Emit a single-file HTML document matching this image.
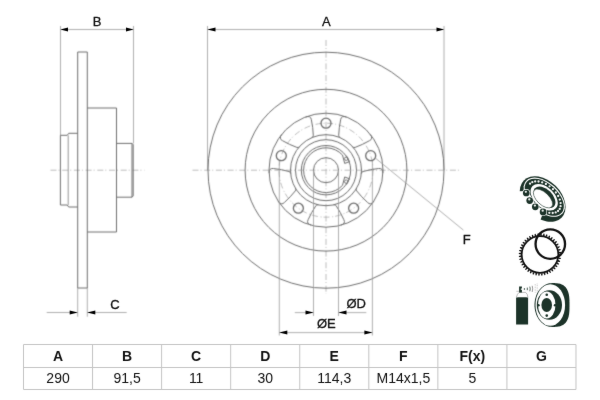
<!DOCTYPE html>
<html><head><meta charset="utf-8"><style>
html,body{margin:0;padding:0;background:#fff;}
body{width:600px;height:400px;overflow:hidden;font-family:"Liberation Sans",sans-serif;}
svg{display:block;}

</style></head><body>
<svg width="600" height="400" viewBox="0 0 600 400">
<defs>
<filter id="soft" filterUnits="userSpaceOnUse" x="0" y="0" width="600" height="400" color-interpolation-filters="sRGB"><feConvolveMatrix order="3" kernelMatrix="0.025 0.1 0.025 0.1 0.5 0.1 0.025 0.1 0.025" divisor="1" edgeMode="duplicate"/></filter>
<filter id="mild" filterUnits="userSpaceOnUse" x="0" y="0" width="600" height="400" color-interpolation-filters="sRGB"><feConvolveMatrix order="3" kernelMatrix="0.01 0.04 0.01 0.04 0.8 0.04 0.01 0.04 0.01" divisor="1" edgeMode="duplicate"/></filter>
<filter id="icf" filterUnits="userSpaceOnUse" x="0" y="0" width="600" height="400" color-interpolation-filters="sRGB"><feConvolveMatrix order="3" kernelMatrix="0.01 0.04 0.01 0.04 0.8 0.04 0.01 0.04 0.01" divisor="1" edgeMode="duplicate"/></filter>
</defs>
<g filter="url(#soft)">
<rect x="0" y="0" width="600" height="400" fill="#fff"/>
<line x1="50.5" y1="170.2" x2="144.5" y2="170.2" stroke="#b4b4b4" stroke-width="0.9" stroke-dasharray="6 2 1 2.7"/>
<line x1="60.5" y1="26" x2="60.5" y2="135.3" stroke="#9a9a9a" stroke-width="0.8"/>
<line x1="133.5" y1="26" x2="133.5" y2="143.4" stroke="#9a9a9a" stroke-width="0.8"/>
<line x1="60.5" y1="29.5" x2="133.5" y2="29.5" stroke="#9a9a9a" stroke-width="0.8"/>
<path d="M77.7,52 L87.3,52 M77.7,52 L77.7,288 M87.3,52 L87.3,288 M77.7,288 L87.3,288 M87.3,108 L116.5,108 L116.5,232 L87.3,232 M116.5,143.4 L132,143.4 L133.2,144.6 L133.2,195.9 L132,197.2 L116.5,197.2 M132,143.4 L132,197.2 M77.7,133.3 L68.7,133.3 L67.2,135.3 L60.4,135.3 L60.4,205 L67.2,205 L68.7,207 L77.7,207" fill="none" stroke="#6e6e6e" stroke-width="1"/>
<line x1="68.2" y1="135.3" x2="68.2" y2="205" stroke="#8a8a8a" stroke-width="0.9"/>
<line x1="77.7" y1="288" x2="77.7" y2="316.7" stroke="#9a9a9a" stroke-width="0.8"/>
<line x1="87.3" y1="288" x2="87.3" y2="316.7" stroke="#9a9a9a" stroke-width="0.8"/>
<line x1="46.7" y1="312.5" x2="77.7" y2="312.5" stroke="#9a9a9a" stroke-width="0.8"/>
<line x1="87.3" y1="312.5" x2="126.7" y2="312.5" stroke="#9a9a9a" stroke-width="0.8"/>
<line x1="192.5" y1="170.2" x2="460.5" y2="170.2" stroke="#b4b4b4" stroke-width="0.9" stroke-dasharray="6 2 1 2.7"/>
<line x1="326" y1="40" x2="326" y2="294" stroke="#b4b4b4" stroke-width="0.9" stroke-dasharray="6 2 1 2.7"/>
<line x1="207.5" y1="26" x2="207.5" y2="170.2" stroke="#9a9a9a" stroke-width="0.8"/>
<line x1="444" y1="26" x2="444" y2="170.2" stroke="#9a9a9a" stroke-width="0.8"/>
<line x1="207.5" y1="29.5" x2="444" y2="29.5" stroke="#9a9a9a" stroke-width="0.8"/>
<circle cx="326" cy="170.2" r="118" fill="none" stroke="#6e6e6e" stroke-width="1"/>
<circle cx="326" cy="170.2" r="80.9" fill="none" stroke="#6e6e6e" stroke-width="1"/>
<circle cx="326" cy="170.2" r="57" fill="none" stroke="#6e6e6e" stroke-width="1"/>
<circle cx="326" cy="170.2" r="35.5" fill="none" stroke="#6e6e6e" stroke-width="1"/>
<circle cx="326" cy="170.2" r="30.5" fill="none" stroke="#6e6e6e" stroke-width="1"/>
<circle cx="326" cy="170.2" r="24.7" fill="none" stroke="#6e6e6e" stroke-width="1"/>
<circle cx="326" cy="170.2" r="12.5" fill="none" stroke="#6e6e6e" stroke-width="1"/>
<circle cx="326" cy="170.2" r="47" fill="none" stroke="#b4b4b4" stroke-width="0.9" stroke-dasharray="6 2 1 2.7"/>
<circle cx="326" cy="123.2" r="5" fill="none" stroke="#6a6a6a" stroke-width="1.3"/>
<circle cx="370.7" cy="155.68" r="5" fill="none" stroke="#6a6a6a" stroke-width="1.3"/>
<circle cx="353.63" cy="208.22" r="5" fill="none" stroke="#6a6a6a" stroke-width="1.3"/>
<circle cx="298.37" cy="208.22" r="5" fill="none" stroke="#6a6a6a" stroke-width="1.3"/>
<circle cx="281.3" cy="155.68" r="5" fill="none" stroke="#6a6a6a" stroke-width="1.3"/>
<path d="M311.78,137.67 Q313.5,136.97 313.31,135.48 Q313.04,127.61 311.36,119.73 Q310.8,115.26 305.6,116.97 M340.22,137.67 Q338.5,136.97 338.69,135.48 Q338.96,127.61 340.64,119.73 Q341.2,115.26 346.4,116.97 M352.54,146.62 Q353.74,148.04 355.1,147.41 Q362.5,144.71 369.47,140.68 Q373.55,138.77 370.32,134.36 M361.33,173.67 Q361.46,171.82 362.94,171.54 Q370.51,169.37 378.53,168.53 Q382.94,167.68 382.92,173.15 M356.62,188.16 Q355.64,189.73 356.67,190.83 Q361.52,197.04 367.51,202.42 Q370.59,205.71 373.79,201.27 M333.61,204.87 Q335.42,204.43 336.14,205.74 Q340.55,212.28 343.82,219.64 Q345.99,223.58 340.79,225.25 M318.39,204.87 Q316.58,204.43 315.86,205.74 Q311.45,212.28 308.18,219.64 Q306.01,223.58 311.21,225.25 M295.38,188.16 Q296.36,189.73 295.33,190.83 Q290.48,197.04 284.49,202.42 Q281.41,205.71 278.21,201.27 M290.67,173.67 Q290.54,171.82 289.06,171.54 Q281.49,169.37 273.47,168.53 Q269.06,167.68 269.08,173.15 M299.46,146.62 Q298.26,148.04 296.9,147.41 Q289.5,144.71 282.53,140.68 Q278.45,138.77 281.68,134.36" fill="none" stroke="#6e6e6e" stroke-width="1"/>
<path d="M342.49,155.04 A22.4,22.4 0 1,0 342.49,185.36" fill="none" stroke="#6e6e6e" stroke-width="1"/>
<path d="M342.49,155.04 L344.71,163.43 L349.48,161.61 L346.3,155.78" fill="none" stroke="#6e6e6e" stroke-width="1" stroke-linejoin="round"/>
<circle cx="346.28" cy="158.73" r="1.75" fill="none" stroke="#6e6e6e" stroke-width="0.9"/>
<path d="M342.49,185.36 L344.71,176.97 L349.48,178.79 L346.3,184.62" fill="none" stroke="#6e6e6e" stroke-width="1" stroke-linejoin="round"/>
<circle cx="346.28" cy="181.67" r="1.75" fill="none" stroke="#6e6e6e" stroke-width="0.9"/>
<line x1="279.3" y1="161" x2="279.3" y2="335.5" stroke="#9a9a9a" stroke-width="0.8"/>
<line x1="372.4" y1="161" x2="372.4" y2="335.5" stroke="#9a9a9a" stroke-width="0.8"/>
<line x1="279.3" y1="332.6" x2="372.4" y2="332.6" stroke="#9a9a9a" stroke-width="0.8"/>
<line x1="313.5" y1="170.2" x2="313.5" y2="316" stroke="#9a9a9a" stroke-width="0.8"/>
<line x1="338.5" y1="170.2" x2="338.5" y2="316" stroke="#9a9a9a" stroke-width="0.8"/>
<line x1="294.8" y1="312.6" x2="313.5" y2="312.6" stroke="#9a9a9a" stroke-width="0.8"/>
<line x1="338.5" y1="312.6" x2="366.3" y2="312.6" stroke="#9a9a9a" stroke-width="0.8"/>
<line x1="375.4" y1="158.1" x2="463.4" y2="230.1" stroke="#9a9a9a" stroke-width="0.8"/>
</g>
<g filter="url(#mild)">
<path d="M60.5,29.5 L68,27.50 L68,31.50 Z" fill="#000"/>
<path d="M133.5,29.5 L126,27.50 L126,31.50 Z" fill="#000"/>
<path d="M77.7,312.5 L69.7,310.50 L69.7,314.50 Z" fill="#000"/>
<path d="M87.3,312.5 L95.3,310.50 L95.3,314.50 Z" fill="#000"/>
<path d="M207.5,29.5 L215.5,27.50 L215.5,31.50 Z" fill="#000"/>
<path d="M444,29.5 L436.5,27.50 L436.5,31.50 Z" fill="#000"/>
<path d="M279.3,332.6 L287.3,330.60 L287.3,334.60 Z" fill="#000"/>
<path d="M372.4,332.6 L364.4,330.60 L364.4,334.60 Z" fill="#000"/>
<path d="M313.5,312.6 L305.5,310.60 L305.5,314.60 Z" fill="#000"/>
<path d="M338.5,312.6 L346.5,310.60 L346.5,314.60 Z" fill="#000"/>
<text x="97" y="25.8" font-size="13" text-anchor="middle" font-family="Liberation Sans, sans-serif" fill="#111" stroke="#111" stroke-width="0.3">B</text>
<text x="326.4" y="25.8" font-size="13" text-anchor="middle" font-family="Liberation Sans, sans-serif" fill="#111" stroke="#111" stroke-width="0.3">A</text>
<text x="115" y="308.7" font-size="13" text-anchor="middle" font-family="Liberation Sans, sans-serif" fill="#111" stroke="#111" stroke-width="0.3">C</text>
<text x="346.5" y="307.8" font-size="13" font-family="Liberation Sans, sans-serif" fill="#111" stroke="#111" stroke-width="0.3">ØD</text>
<text x="317" y="328" font-size="13" font-family="Liberation Sans, sans-serif" fill="#111" stroke="#111" stroke-width="0.3">ØE</text>
<text x="462.8" y="244.2" font-size="13" font-family="Liberation Sans, sans-serif" fill="#111" stroke="#111" stroke-width="0.3">F</text>
<path d="M23.5,344.5 L23.5,389.5 M92.56,344.5 L92.56,389.5 M161.62,344.5 L161.62,389.5 M230.68,344.5 L230.68,389.5 M299.74,344.5 L299.74,389.5 M368.8,344.5 L368.8,389.5 M437.86,344.5 L437.86,389.5 M506.92,344.5 L506.92,389.5 M575.98,344.5 L575.98,389.5 M23.5,344.5 L576,344.5 M23.5,367.5 L576,367.5 M23.5,389.5 L576,389.5" fill="none" stroke="#c4c4c4" stroke-width="1"/>
<text x="58.03" y="361.2" font-size="14" font-weight="bold" text-anchor="middle" font-family="Liberation Sans, sans-serif" fill="#111">A</text>
<text x="58.03" y="383.3" font-size="14" text-anchor="middle" font-family="Liberation Sans, sans-serif" fill="#111">290</text>
<text x="127.09" y="361.2" font-size="14" font-weight="bold" text-anchor="middle" font-family="Liberation Sans, sans-serif" fill="#111">B</text>
<text x="127.09" y="383.3" font-size="14" text-anchor="middle" font-family="Liberation Sans, sans-serif" fill="#111">91,5</text>
<text x="196.15" y="361.2" font-size="14" font-weight="bold" text-anchor="middle" font-family="Liberation Sans, sans-serif" fill="#111">C</text>
<text x="196.15" y="383.3" font-size="14" text-anchor="middle" font-family="Liberation Sans, sans-serif" fill="#111">11</text>
<text x="265.21" y="361.2" font-size="14" font-weight="bold" text-anchor="middle" font-family="Liberation Sans, sans-serif" fill="#111">D</text>
<text x="265.21" y="383.3" font-size="14" text-anchor="middle" font-family="Liberation Sans, sans-serif" fill="#111">30</text>
<text x="334.27" y="361.2" font-size="14" font-weight="bold" text-anchor="middle" font-family="Liberation Sans, sans-serif" fill="#111">E</text>
<text x="334.27" y="383.3" font-size="14" text-anchor="middle" font-family="Liberation Sans, sans-serif" fill="#111">114,3</text>
<text x="403.33" y="361.2" font-size="14" font-weight="bold" text-anchor="middle" font-family="Liberation Sans, sans-serif" fill="#111">F</text>
<text x="403.33" y="383.3" font-size="14" text-anchor="middle" font-family="Liberation Sans, sans-serif" fill="#111">M14x1,5</text>
<text x="472.39" y="361.2" font-size="14" font-weight="bold" text-anchor="middle" font-family="Liberation Sans, sans-serif" fill="#111">F(x)</text>
<text x="472.39" y="383.3" font-size="14" text-anchor="middle" font-family="Liberation Sans, sans-serif" fill="#111">5</text>
<text x="541.45" y="361.2" font-size="14" font-weight="bold" text-anchor="middle" font-family="Liberation Sans, sans-serif" fill="#111">G</text>
</g>
<g filter="url(#icf)">
<ellipse cx="0" cy="0" rx="26.5" ry="18.5" fill="#1c3329" transform="translate(542.66,199.04) rotate(44.6)" />
<ellipse cx="0" cy="0" rx="24.46" ry="14.63" fill="#fff" transform="translate(544.24,197.23) rotate(41.9)" />
<ellipse cx="0" cy="0" rx="23.36" ry="13.53" fill="#1c3329" transform="translate(544.24,197.23) rotate(41.9)" />
<circle cx="530.04" cy="183.66" r="1.15" fill="#f2f4f3"/>
<circle cx="532.31" cy="182.16" r="1.15" fill="#f2f4f3"/>
<circle cx="535.18" cy="181.42" r="1.15" fill="#f2f4f3"/>
<circle cx="538.52" cy="181.50" r="1.15" fill="#f2f4f3"/>
<circle cx="542.16" cy="182.38" r="1.15" fill="#f2f4f3"/>
<circle cx="545.89" cy="184.02" r="1.15" fill="#f2f4f3"/>
<circle cx="549.54" cy="186.33" r="1.15" fill="#f2f4f3"/>
<circle cx="552.92" cy="189.21" r="1.15" fill="#f2f4f3"/>
<circle cx="555.85" cy="192.49" r="1.15" fill="#f2f4f3"/>
<circle cx="558.18" cy="196.01" r="1.15" fill="#f2f4f3"/>
<circle cx="559.79" cy="199.60" r="1.15" fill="#f2f4f3"/>
<circle cx="560.61" cy="203.06" r="1.15" fill="#f2f4f3"/>
<circle cx="560.58" cy="206.22" r="1.15" fill="#f2f4f3"/>
<circle cx="559.72" cy="208.92" r="1.15" fill="#f2f4f3"/>
<circle cx="558.06" cy="211.02" r="1.15" fill="#f2f4f3"/>
<circle cx="555.69" cy="212.41" r="1.15" fill="#f2f4f3"/>
<circle cx="552.73" cy="213.02" r="1.15" fill="#f2f4f3"/>
<circle cx="549.33" cy="212.82" r="1.15" fill="#f2f4f3"/>
<circle cx="545.67" cy="211.82" r="1.15" fill="#f2f4f3"/>
<circle cx="541.94" cy="210.07" r="1.15" fill="#f2f4f3"/>
<polygon points="540.04,221.03 538.87,220.50 537.71,219.93 536.55,219.30 535.42,218.63 534.30,217.91 533.19,217.15 532.12,216.34 531.06,215.50 530.03,214.61 529.04,213.69 528.07,212.73 527.14,211.74 526.25,210.73 525.39,209.68 524.58,208.61 523.81,207.52 523.08,206.40 522.40,205.27 521.76,204.13 521.18,202.97 520.64,201.80 520.16,200.63 519.73,199.45 519.35,198.28 519.03,197.10 518.77,195.93 518.56,194.76 518.41,193.61 518.31,192.47 518.27,191.34 530.02,191.10 530.03,191.78 530.07,192.47 530.15,193.17 530.28,193.89 530.44,194.61 530.64,195.35 530.88,196.09 531.16,196.83 531.48,197.57 531.83,198.31 532.22,199.05 532.65,199.78 533.10,200.51 533.59,201.22 534.11,201.93 534.65,202.62 535.23,203.30 535.83,203.95 536.45,204.59 537.10,205.21 537.76,205.80 538.45,206.38 539.15,206.92 539.87,207.44 540.59,207.92 541.33,208.38 542.08,208.80 542.83,209.19 543.58,209.55 544.34,209.87" fill="#fff"/>
<ellipse cx="0" cy="0" rx="16.700000000000003" ry="10.68" fill="#1c3329" transform="translate(544.18,197.21) rotate(43.6)" />
<ellipse cx="0" cy="0" rx="16.1" ry="10.08" fill="#fff" transform="translate(544.18,197.21) rotate(43.6)" />
<ellipse cx="0" cy="0" rx="13.09" ry="8.0" fill="#1c3329" transform="translate(544.46,197.33) rotate(43.9)" />
<ellipse cx="0" cy="0" rx="12.0" ry="6.1" fill="#fff" transform="translate(542.98,198.55) rotate(43.9)" stroke="#1c3329" stroke-width="0.5"/>
<circle cx="526.25" cy="193.0" r="3.95" fill="#fff"/><circle cx="526.25" cy="193.0" r="3.35" fill="#1c3329"/><circle cx="525.85" cy="191.8" r="1.15" fill="#e8ece9"/>
<circle cx="529.7" cy="200.6" r="3.95" fill="#fff"/><circle cx="529.7" cy="200.6" r="3.35" fill="#1c3329"/><circle cx="529.3000000000001" cy="199.4" r="1.15" fill="#e8ece9"/>
<circle cx="535.3" cy="206.8" r="3.95" fill="#fff"/><circle cx="535.3" cy="206.8" r="3.35" fill="#1c3329"/><circle cx="534.9" cy="205.60000000000002" r="1.15" fill="#e8ece9"/>
<circle cx="543.1" cy="211.9" r="3.95" fill="#fff"/><circle cx="543.1" cy="211.9" r="3.35" fill="#1c3329"/><circle cx="542.7" cy="210.70000000000002" r="1.15" fill="#e8ece9"/>
<path d="M558.90,254.50 L561.19,255.11 L561.15,256.01 L558.80,256.44Z M558.71,257.19 L560.89,258.12 L560.72,259.01 L558.33,259.10Z M558.13,259.82 L560.16,261.05 L559.86,261.91 L557.49,261.66Z M557.19,262.35 L559.02,263.85 L558.61,264.66 L556.30,264.07Z M555.90,264.72 L557.50,266.47 L556.97,267.20 L554.77,266.30Z M554.28,266.88 L555.62,268.83 L554.99,269.49 L552.94,268.28Z M552.38,268.78 L553.42,270.91 L552.70,271.47 L550.85,269.98Z M550.22,270.40 L550.95,272.65 L550.16,273.11 L548.53,271.36Z M547.85,271.69 L548.25,274.03 L547.41,274.36 L546.05,272.41Z M545.32,272.63 L545.39,275.00 L544.51,275.22 L543.44,273.09Z M542.69,273.21 L542.42,275.56 L541.51,275.65 L540.76,273.38Z M540.00,273.40 L539.39,275.69 L538.49,275.65 L538.06,273.30Z M537.31,273.21 L536.38,275.39 L535.49,275.22 L535.40,272.83Z M534.68,272.63 L533.45,274.66 L532.59,274.36 L532.84,271.99Z M532.15,271.69 L530.65,273.52 L529.84,273.11 L530.43,270.80Z M529.78,270.40 L528.03,272.00 L527.30,271.47 L528.20,269.27Z M527.62,268.78 L525.67,270.12 L525.01,269.49 L526.22,267.44Z M525.72,266.88 L523.59,267.92 L523.03,267.20 L524.52,265.35Z M524.10,264.72 L521.85,265.45 L521.39,264.66 L523.14,263.03Z M522.81,262.35 L520.47,262.75 L520.14,261.91 L522.09,260.55Z M521.87,259.82 L519.50,259.89 L519.28,259.01 L521.41,257.94Z M521.29,257.19 L518.94,256.92 L518.85,256.01 L521.12,255.26Z M521.10,254.50 L518.81,253.89 L518.85,252.99 L521.20,252.56Z M521.29,251.81 L519.11,250.88 L519.28,249.99 L521.67,249.90Z M521.87,249.18 L519.84,247.95 L520.14,247.09 L522.51,247.34Z M522.81,246.65 L520.98,245.15 L521.39,244.34 L523.70,244.93Z M524.10,244.28 L522.50,242.53 L523.03,241.80 L525.23,242.70Z M525.72,242.12 L524.38,240.17 L525.01,239.51 L527.06,240.72Z M527.62,240.22 L526.58,238.09 L527.30,237.53 L529.15,239.02Z M529.78,238.60 L529.05,236.35 L529.84,235.89 L531.47,237.64Z M532.15,237.31 L531.75,234.97 L532.59,234.64 L533.95,236.59Z M534.68,236.37 L534.61,234.00 L535.49,233.78 L536.56,235.91Z M537.31,235.79 L537.58,233.44 L538.49,233.35 L539.24,235.62Z M540.00,235.60 L540.61,233.31 L541.51,233.35 L541.94,235.70Z M542.69,235.79 L543.62,233.61 L544.51,233.78 L544.60,236.17Z M545.32,236.37 L546.55,234.34 L547.41,234.64 L547.16,237.01Z M547.85,237.31 L549.35,235.48 L550.16,235.89 L549.57,238.20Z M550.22,238.60 L551.97,237.00 L552.70,237.53 L551.80,239.73Z M552.38,240.22 L554.33,238.88 L554.99,239.51 L553.78,241.56Z M554.28,242.12 L556.41,241.08 L556.97,241.80 L555.48,243.65Z M555.90,244.28 L558.15,243.55 L558.61,244.34 L556.86,245.97Z M557.19,246.65 L559.53,246.25 L559.86,247.09 L557.91,248.45Z M558.13,249.18 L560.50,249.11 L560.72,249.99 L558.59,251.06Z M558.71,251.81 L561.06,252.08 L561.15,252.99 L558.88,253.74Z" fill="#111"/>
<circle cx="540.0" cy="254.5" r="18.3" fill="none" stroke="#111" stroke-width="1.7"/>
<circle cx="550.3" cy="244.1" r="14.75" fill="none" stroke="#111" stroke-width="2.3"/>
<g>
<path d="M516.1,297.6 Q522.1,295.6 528.1,297.6 L528.1,324.6 L516.1,324.6 Z" fill="#1c3329"/>
<path d="M516.4,297.2 Q517.2,293.6 519.2,292.4 L525.6,292.4 Q527.6,293.6 527.9,297.2" fill="#fff" stroke="#8a8a8a" stroke-width="0.6"/>
<path d="M519.1,286.4 L521.9,286.4 L521.9,288.6 L520.8,288.6 L520.8,289.8 L521.9,289.8 L521.9,292.4 L519.1,292.4 Z" fill="#1c3329"/>
<line x1="516.4" y1="291.3" x2="519.1" y2="291.3" stroke="#888" stroke-width="0.5"/>
<circle cx="524.4" cy="289" r="0.7" fill="#1c3329"/>
<line x1="527.3" y1="287.6" x2="527.3" y2="290.2" stroke="#1c3329" stroke-width="0.8"/>
<path d="M529.8,286.6 Q530.6,288.8 529.8,291.3" fill="none" stroke="#1c3329" stroke-width="0.7"/>
<path d="M532.2,285.8 Q533.2,288.8 532.2,292" fill="none" stroke="#555" stroke-width="0.6"/>
<path d="M535.2,284 L535.2,292.6 M537.2,283.6 L537.2,292.6" fill="none" stroke="#999" stroke-width="0.6" stroke-dasharray="0.8 0.8"/>
<path d="M569.50,305.00 L569.48,308.06 L569.44,309.86 L569.36,311.36 L569.24,312.69 L569.10,313.89 L568.92,315.01 L568.72,316.05 L568.48,317.02 L568.20,317.94 L567.90,318.80 L567.56,319.61 L567.19,320.37 L566.79,321.08 L566.36,321.75 L565.89,322.38 L565.39,322.97 L564.85,323.51 L564.28,324.01 L563.67,324.48 L563.02,324.90 L562.34,325.28 L561.61,325.62 L560.83,325.92 L560.00,326.18 L559.11,326.40 L558.14,326.58 L557.08,326.72 L555.88,326.82 L554.45,326.88 L552.00,326.90 L551.08,326.87 L550.17,326.78 L549.26,326.63 L548.36,326.42 L547.47,326.15 L546.59,325.83 L545.73,325.45 L544.88,325.01 L544.06,324.51 L543.25,323.97 L542.47,323.37 L541.71,322.72 L540.99,322.02 L540.29,321.27 L539.63,320.49 L538.99,319.65 L538.40,318.78 L537.84,317.87 L537.32,316.93 L536.84,315.95 L536.41,314.94 L536.01,313.91 L535.66,312.85 L535.36,311.77 L535.10,310.67 L534.88,309.55 L534.72,308.43 L534.60,307.29 L534.52,306.15 L534.50,305.00 L534.52,303.85 L534.60,302.71 L534.72,301.57 L534.88,300.45 L535.10,299.33 L535.36,298.23 L535.66,297.15 L536.01,296.09 L536.41,295.06 L536.84,294.05 L537.32,293.07 L537.84,292.13 L538.40,291.22 L538.99,290.35 L539.63,289.51 L540.29,288.73 L540.99,287.98 L541.71,287.28 L542.47,286.63 L543.25,286.03 L544.06,285.49 L544.88,284.99 L545.73,284.55 L546.59,284.17 L547.47,283.85 L548.36,283.58 L549.26,283.37 L550.17,283.22 L551.08,283.13 L552.00,283.10 L554.45,283.12 L555.88,283.18 L557.08,283.28 L558.14,283.42 L559.11,283.60 L560.00,283.82 L560.83,284.08 L561.61,284.38 L562.34,284.72 L563.02,285.10 L563.67,285.52 L564.28,285.99 L564.85,286.49 L565.39,287.03 L565.89,287.62 L566.36,288.25 L566.79,288.92 L567.19,289.63 L567.56,290.39 L567.90,291.20 L568.20,292.06 L568.48,292.98 L568.72,293.95 L568.92,294.99 L569.10,296.11 L569.24,297.31 L569.36,298.64 L569.44,300.14 L569.48,301.94 Z" fill="#1c3329"/>
<ellipse cx="550.3" cy="305" rx="14.8" ry="20.8" fill="#fff"/>
<ellipse cx="549.4" cy="305" rx="12.6" ry="14.8" fill="#1c3329"/>
<ellipse cx="546.75" cy="305" rx="8.75" ry="13.4" fill="#fff"/>
<ellipse cx="546.7" cy="305" rx="5.3" ry="6.9" fill="#1c3329"/>
<circle cx="546.75" cy="294.75" r="1.3" fill="#1c3329"/>
<circle cx="538.4" cy="305.2" r="1.3" fill="#1c3329"/>
<circle cx="555.1" cy="305.2" r="1.3" fill="#1c3329"/>
<circle cx="546.75" cy="315.6" r="1.3" fill="#1c3329"/>
</g>
</g>
</svg>
</body></html>
